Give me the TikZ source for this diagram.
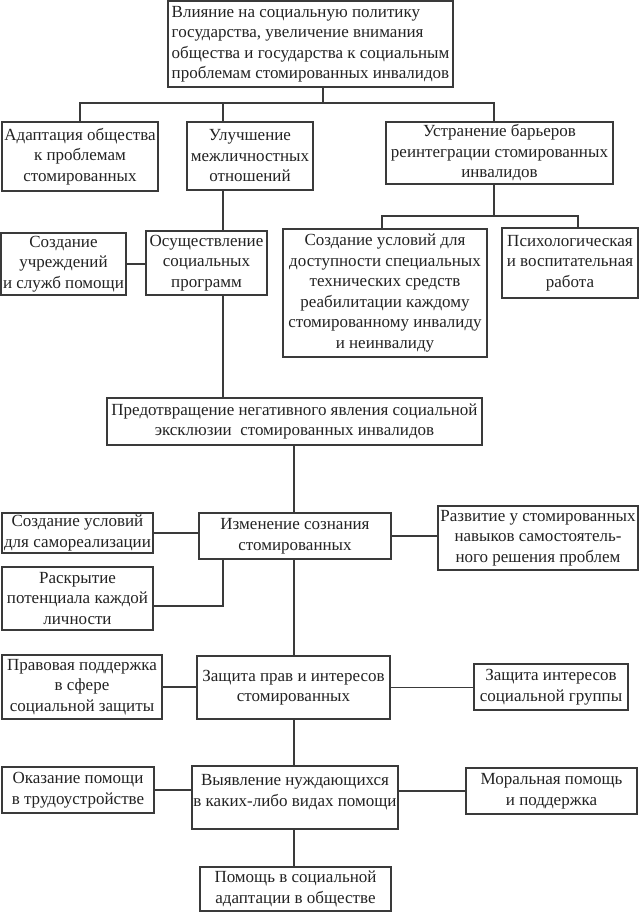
\documentclass[tikz,border=0pt]{standalone}
\usepackage{fontspec}
\setmainfont{Liberation Serif}
\begin{document}
\begin{tikzpicture}[x=1pt,y=-1pt,
  bx/.style={draw=linec, line width=1.1pt, inner sep=0pt, align=center,
    text=textc, font=\fontsize{17}{20.5}\selectfont},
  txt/.style={inner sep=0pt, align=center, text=textc, font=\fontsize{17}{20.5}\selectfont},
  ln/.style={draw=linec, line width=1.1pt}]
\definecolor{linec}{HTML}{3A3A3A}
\definecolor{textc}{HTML}{222222}
\useasboundingbox (0,0) rectangle (639,913);

% boxes
\node[bx, align=left, minimum width=285pt, minimum height=86pt] (top) at (310.5,44) {Влияние на социальную политику\\государства, увеличение внимания\\общества и государства к социальным\\проблемам стомированных инвалидов};
\node[bx, minimum width=156pt, minimum height=69pt] (adapt) at (80,156.5) {Адаптация общества\\к проблемам\\стомированных};
\node[bx, minimum width=126pt, minimum height=68pt] (uluch) at (250,156) {Улучшение\\межличностных\\отношений};
\node[bx, minimum width=227pt, minimum height=62pt] (ustr) at (499.5,153) {Устранение барьеров\\реинтеграции стомированных\\инвалидов};
\node[bx, minimum width=125pt, minimum height=62pt] (uchr) at (63.5,264) {Создание\\учреждений\\и служб помощи};
\node[bx, minimum width=121pt, minimum height=64pt] (osush) at (206.5,263) {Осуществление\\социальных\\программ};
\node[bx, minimum width=204pt, minimum height=128pt] (usl) at (385,293) {Создание условий для\\доступности специальных\\технических средств\\реабилитации каждому\\стомированному инвалиду\\и неинвалиду};
\node[bx, minimum width=136pt, minimum height=70pt] (psych) at (570,263) {Психологическая\\и воспитательная\\работа};
\node[bx, minimum width=375pt, minimum height=47pt] (predotv) at (294.5,421.5) {Предотвращение негативного явления социальной\\эксклюзии\ \ стомированных инвалидов};
\node[bx, minimum width=192pt, minimum height=46pt] (izmen) at (295,536) {Изменение сознания\\стомированных};
\node[bx, minimum width=151pt, minimum height=40pt] (samoreal) at (77.5,533) {Создание условий\\для самореализации};
\node[bx, minimum width=151pt, minimum height=63pt] (raskr) at (77.5,598.5) {Раскрытие\\потенциала каждой\\личности};
\node[bx, minimum width=200pt, minimum height=64pt] (razv) at (538,538) {Развитие у стомированных\\навыков самостоятель-\\ного решения проблем};
\node[bx, minimum width=193pt, minimum height=63pt] (zashch) at (293.5,687.5) {Защита прав и интересов\\стомированных};
\node[bx, minimum width=160pt, minimum height=64pt] (pravov) at (82,687) {Правовая поддержка\\в сфере\\социальной защиты};
\node[bx, minimum width=154pt, minimum height=46pt] (zashint) at (551,687) {Защита интересов\\социальной группы};
\node[bx, minimum width=206pt, minimum height=63pt] (vyyavl) at (295,797.5) {};
\node[txt] (vyyavlT) at (295,792) {Выявление нуждающихся\\в каких-либо видах помощи};
\node[bx, minimum width=152pt, minimum height=46pt] (okaz) at (78,790) {Оказание помощи\\в трудоустройстве};
\node[bx, minimum width=171pt, minimum height=46pt] (moral) at (551.5,791) {Моральная помощь\\и поддержка};
\node[bx, minimum width=191pt, minimum height=44pt] (pomosh) at (295.5,889) {Помощь в социальной\\адаптации в обществе};

% coordinates
\coordinate (b1) at (323,103);
\coordinate (bL) at (80,103);
\coordinate (bM) at (223,103);
\coordinate (bR) at (494,103);
\coordinate (c1) at (494,216);
\coordinate (cL) at (382,216);
\coordinate (cR) at (578,216);
\coordinate (ax) at (294,0);
\coordinate (rk) at (223,606);

% connectors
\draw[ln] (b1 |- top.south) -- (b1);
\draw[ln] (bL |- adapt.north) -- (bL) -- (bR) -- (bR |- ustr.north);
\draw[ln] (bM) -- (bM |- uluch.north);
\draw[ln] (bM |- uluch.south) -- (bM |- osush.north);
\draw[ln] (uchr.east) -- (uchr.east -| osush.west);
\draw[ln] (bM |- osush.south) -- (bM |- predotv.north);
\draw[ln] (c1 |- ustr.south) -- (c1);
\draw[ln] (cL |- usl.north) -- (cL) -- (cR) -- (cR |- psych.north);
\draw[ln] (ax |- predotv.south) -- (ax |- izmen.north);
\draw[ln] (samoreal.east) -- (samoreal.east -| izmen.west);
\draw[ln] (rk |- izmen.south) -- (rk) -- (rk -| raskr.east);
\draw[ln] (izmen.east) -- (izmen.east -| razv.west);
\draw[ln] (ax |- izmen.south) -- (ax |- zashch.north);
\draw[ln] (pravov.east) -- (pravov.east -| zashch.west);
\draw[ln] (zashch.east) -- (zashch.east -| zashint.west);
\draw[ln] (ax |- zashch.south) -- (ax |- vyyavl.north);
\draw[ln] (okaz.east) -- (okaz.east -| vyyavl.west);
\draw[ln] (vyyavl.east |- moral.west) -- (moral.west);
\draw[ln] (ax |- vyyavl.south) -- (ax |- pomosh.north);
\end{tikzpicture}
\end{document}
